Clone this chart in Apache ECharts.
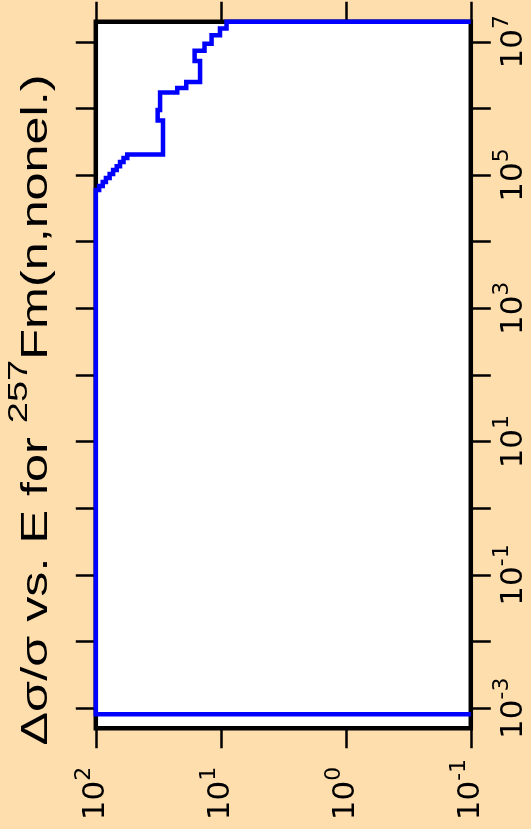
<!DOCTYPE html>
<html>
<head>
<meta charset="utf-8">
<script src="https://cdn.jsdelivr.net/npm/echarts@6/dist/echarts.min.js"></script>
<style>
html,body{margin:0;padding:0;background:#FFDEAD;}
#chart{width:531px;height:829px;}
</style>
</head>
<body>
<div id="chart"></div>
<script>
// Energy bin edges (E) of the relative-uncertainty step function
const binEdges = [8.1e-4, 5.96e4, 6.84e4, 7.86e4, 9.02e4, 1.035e5, 1.19e5, 1.36e5, 1.57e5, 1.80e5,
                  2.03e5, 6.58e5, 9.45e5, 1.73e6, 2.02e6, 2.5e6, 5.14e6, 7.33e6, 9.33e6, 1.25e7, 1.58e7, 2e7];
// Δσ/σ in each bin (percent)
const relUnc = [100, 94, 88, 83, 77.5, 72.7, 68, 64, 60, 56,
                29, 32, 30.6, 22.3, 18.9, 14.65, 16.2, 13.5, 11.85, 10.15, 9.0];
// value drawn outside the bins (zero, shown at axis floor)
const floorValue = 0.1;
// axis ranges and tick values
const energyRange = [5e-4, 2e7];
const uncRange = [0.1, 100];
const energyTicks = [1e-3, 1e-2, 1e-1, 1, 1e1, 1e2, 1e3, 1e4, 1e5, 1e6, 1e7];
const energyLabels = [1e-3, 1e-1, 1e1, 1e3, 1e5, 1e7];
const uncTicks = [0.1, 1, 10, 100];
const titleParts = ['Δσ/σ vs. E for ', '257', 'Fm(n,nonel.)'];

// build step path [Δσ/σ, E]
const path = [[floorValue, binEdges[0]]];
for (let i = 0; i < relUnc.length; i++) {
  path.push([relUnc[i], binEdges[i]]);
  path.push([relUnc[i], binEdges[i + 1]]);
}
path.push([floorValue, binEdges[binEdges.length - 1]]);

const FONT = '"Liberation Sans", Arial, Helvetica, sans-serif';
const LFONT = '"DejaVu Sans", sans-serif';
const labelRich = {
  b: {fontSize: 31, lineHeight: 45, fontFamily: LFONT, color: '#000', verticalAlign: 'middle'},
  s: {fontSize: 22, lineHeight: 22, fontFamily: LFONT, color: '#000', verticalAlign: 'top'}
};
function powLabel(v) {
  const e = Math.round(Math.log10(v));
  return '{b|10}{s|' + e + '}';
}
const tickStyle = {show: true, inside: false, length: 20, lineStyle: {color: '#000', width: 2.5}};

const chart = echarts.init(document.getElementById('chart'), null, {renderer: 'canvas'});
chart.setOption({
  animation: false,
  backgroundColor: '#FFDEAD',
  grid: {
    left: 95.8, right: 60.2, top: 21.7, bottom: 100.7,
    show: true, backgroundColor: '#ffffff', borderColor: '#000', borderWidth: 4.5,
    containLabel: false, outerBoundsMode: 'none'
  },
  xAxis: [
    {
      type: 'log', logBase: 10, min: uncRange[0], max: uncRange[1], inverse: true, position: 'bottom',
      axisLine: {show: false}, splitLine: {show: false},
      axisTick: Object.assign({customValues: uncTicks}, tickStyle),
      axisLabel: {customValues: uncTicks, rotate: 90, margin: 92, align: 'left', verticalAlign: 'middle',
                  formatter: powLabel, rich: labelRich}
    },
    {
      type: 'log', logBase: 10, min: uncRange[0], max: uncRange[1], inverse: true, position: 'top',
      axisLine: {show: false}, splitLine: {show: false},
      axisTick: Object.assign({customValues: uncTicks}, tickStyle),
      axisLabel: {show: false}
    }
  ],
  yAxis: [
    {
      type: 'log', logBase: 10, min: energyRange[0], max: energyRange[1], position: 'right',
      axisLine: {show: false}, splitLine: {show: false},
      axisTick: Object.assign({customValues: energyTicks}, tickStyle),
      axisLabel: {customValues: energyLabels, rotate: 90, margin: 20.5, align: 'center', verticalAlign: 'top',
                  formatter: powLabel, rich: labelRich}
    },
    {
      type: 'log', logBase: 10, min: energyRange[0], max: energyRange[1], position: 'left',
      axisLine: {show: false}, splitLine: {show: false},
      axisTick: Object.assign({customValues: energyTicks}, tickStyle),
      axisLabel: {show: false}
    }
  ],
  graphic: [{
    type: 'text',
    x: 36.5, y: 410,
    rotation: Math.PI / 2,
    scaleX: 1.36,
    style: {
      text: '{t|' + titleParts[0] + '}{p|' + titleParts[1] + '}{t|' + titleParts[2] + '}',
      align: 'center', verticalAlign: 'middle',
      rich: {
        t: {fontSize: 37, lineHeight: 63, fontFamily: FONT, fill: '#000', verticalAlign: 'middle'},
        p: {fontSize: 28, lineHeight: 28, fontFamily: FONT, fill: '#000', verticalAlign: 'top'}
      }
    }
  }],
  series: [{
    type: 'line',
    xAxisIndex: 0, yAxisIndex: 0,
    data: path,
    symbol: 'none',
    clip: false,
    lineStyle: {color: '#0000ff', width: 4.5, cap: 'butt', join: 'miter'}
  }]
});
</script>
</body>
</html>
